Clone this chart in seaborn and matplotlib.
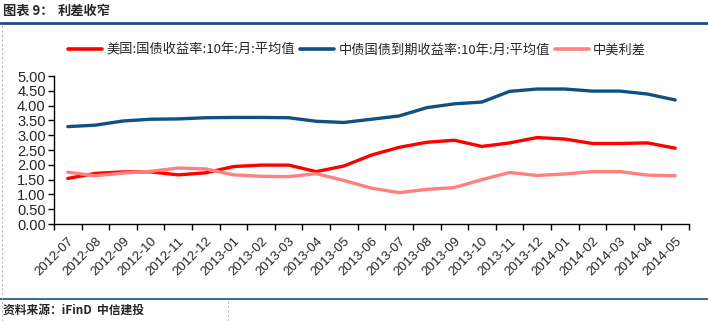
import matplotlib
matplotlib.use("Agg")
import matplotlib.pyplot as plt
import seaborn as sns
import pandas as pd
import numpy as np
from matplotlib.lines import Line2D

months = ["2012-07", "2012-08", "2012-09", "2012-10", "2012-11", "2012-12",
          "2013-01", "2013-02", "2013-03", "2013-04", "2013-05", "2013-06",
          "2013-07", "2013-08", "2013-09", "2013-10", "2013-11", "2013-12",
          "2014-01", "2014-02", "2014-03", "2014-04", "2014-05"]
us_yield = [1.54, 1.71, 1.76, 1.76, 1.66, 1.73, 1.94, 1.99, 1.99, 1.77, 1.96, 2.33,
            2.59, 2.76, 2.83, 2.62, 2.74, 2.92, 2.87, 2.72, 2.72, 2.74, 2.56]
cn_yield = [3.29, 3.34, 3.48, 3.54, 3.55, 3.59, 3.60, 3.60, 3.59, 3.47, 3.43, 3.54,
            3.65, 3.93, 4.06, 4.12, 4.48, 4.56, 4.56, 4.49, 4.49, 4.39, 4.19]
spread = [1.75, 1.63, 1.72, 1.78, 1.89, 1.86, 1.66, 1.61, 1.60, 1.70, 1.47, 1.21,
          1.06, 1.17, 1.23, 1.50, 1.74, 1.64, 1.69, 1.77, 1.77, 1.65, 1.63]
series_names = ["美国:国债收益率:10年:月:平均值", "中债国债到期收益率:10年:月:平均值", "中美利差"]
colors = ["#FF0000", "#0E5182", "#FF8080"]

sns.set_theme(style="white")
plt.rcParams['font.family'] = ['Noto Sans CJK SC', 'DejaVu Sans']

df = pd.DataFrame({
    "x": list(range(len(months))) * 3,
    "value": us_yield + cn_yield + spread,
    "series": [series_names[0]] * len(months) + [series_names[1]] * len(months) + [series_names[2]] * len(months),
})

W, H = 708, 321
fig = plt.figure(figsize=(W / 100, H / 100), dpi=100)
ax = fig.add_axes([54 / W, (H - 224) / H, (689 - 54) / W, (224 - 76) / H])

sns.lineplot(data=df, x="x", y="value", hue="series", hue_order=series_names,
             palette=colors, linewidth=2.4, ax=ax, legend=False)

ax.set_xlim(-0.5, len(months) - 0.5)
ax.set_ylim(0, 5)
ax.set_yticks(np.arange(0, 5.01, 0.5))
ax.set_yticklabels([f"{v:.2f}" for v in np.arange(0, 5.01, 0.5)],
                   fontfamily="Liberation Sans", fontsize=10.5)
ax.set_xticks(range(len(months)))
ax.set_xticklabels(months, rotation=45, ha="right", va="top",
                   rotation_mode="anchor", fontfamily="Liberation Sans", fontsize=9.5)
ax.set_xticks(np.arange(-0.5, len(months), 1), minor=True)
ax.tick_params(axis="x", which="major", length=0, pad=8)
ax.tick_params(axis="x", which="minor", length=4, width=1, color="black", direction="out")
ax.tick_params(axis="y", length=4, width=1, color="black", direction="out", pad=2)
ax.xaxis.set_ticks_position("bottom")
ax.yaxis.set_ticks_position("left")
for s in ["top", "right"]:
    ax.spines[s].set_visible(False)
for s in ["left", "bottom"]:
    ax.spines[s].set_color("black")
    ax.spines[s].set_linewidth(1)
ax.set_xlabel("")
ax.set_ylabel("")
ax.grid(False)

handles = [Line2D([0], [0], color=c, lw=2.6) for c in colors]
fig.legend(handles, series_names, loc="center", bbox_to_anchor=(357 / W, 1 - 50 / H),
           ncol=3, frameon=False, fontsize=9.5, handlelength=2.6, handletextpad=0.3,
           columnspacing=0.4)

# header / footer decorations
fig.text(3 / W, 1 - 11 / H, "图表 9：", fontsize=9.5, fontweight="bold", va="center", ha="left")
fig.text(58 / W, 1 - 11 / H, "利差收窄", fontsize=9.5, fontweight="bold", va="center", ha="left")
fig.add_artist(Line2D([0, 1], [1 - 22.5 / H, 1 - 22.5 / H], color="#1F4E79", lw=2))
fig.add_artist(Line2D([0, 1], [1 - 298.5 / H, 1 - 298.5 / H], color="#1F4E79", lw=1.2))
fig.add_artist(Line2D([1.5 / W, 1.5 / W], [0, 1 - 23 / H], color="#BBBBBB", lw=0.8, ls=(0, (2, 2))))
fig.add_artist(Line2D([228 / W, 228 / W], [0, 1 - 299 / H], color="#BBBBBB", lw=0.8, ls=(0, (2, 2))))
fig.text(3 / W, 1 - 310 / H, "资料来源：iFinD  中信建投", fontsize=8.5, fontweight="bold",
         va="center", ha="left")

fig.savefig("out.png", dpi=100, facecolor="white")
